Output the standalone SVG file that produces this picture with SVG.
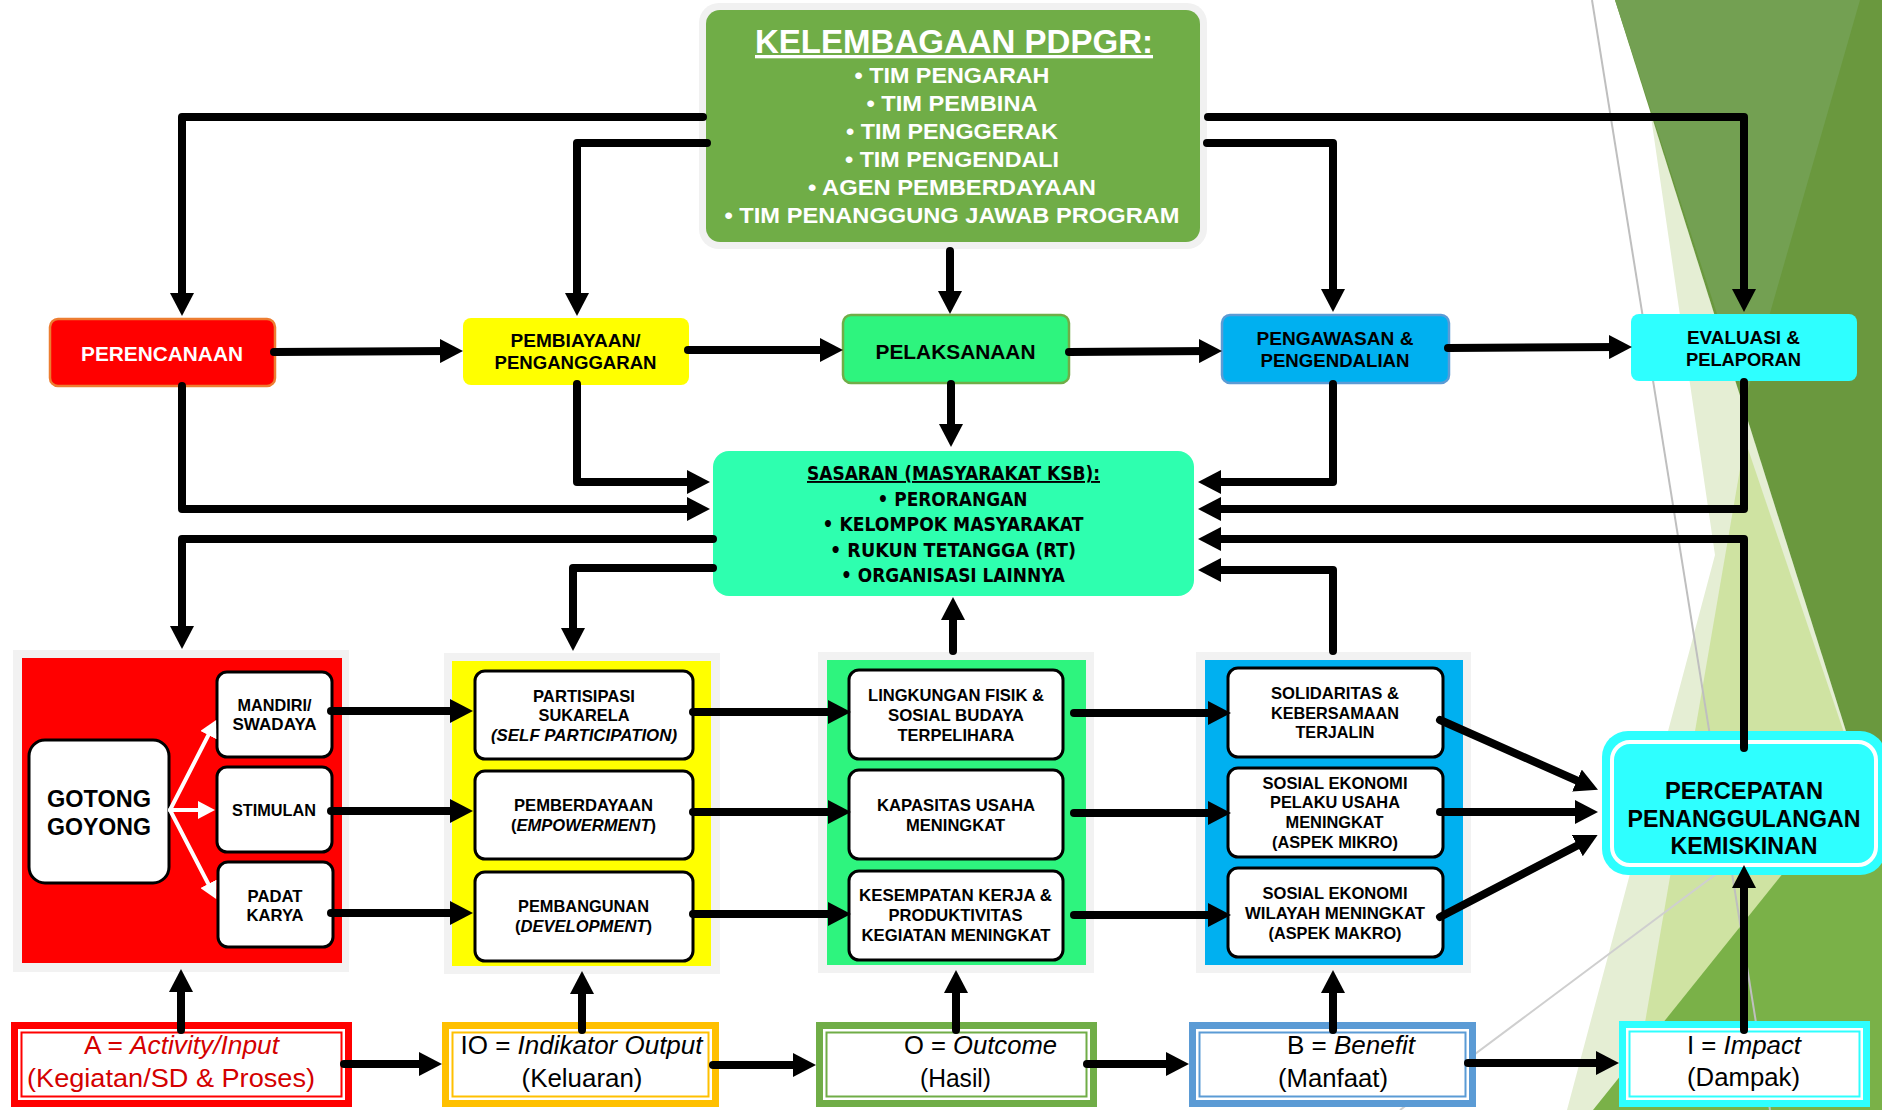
<svg xmlns="http://www.w3.org/2000/svg" width="1882" height="1110" viewBox="0 0 1882 1110">
<defs>
<style>
.b{font-family:"Liberation Sans",Arial,sans-serif;font-weight:bold;text-anchor:middle;fill:#000}
.r{font-family:"Liberation Sans",Arial,sans-serif;font-weight:normal;text-anchor:middle;font-size:26px;fill:#000}
.t{font-family:"DejaVu Sans","Liberation Sans",sans-serif;font-weight:bold;text-anchor:middle;font-size:19px;fill:#000}
.wt{fill:#fff}
.i{font-style:italic}
.u{text-decoration:underline}
.f16{font-size:16.5px}
.f18{font-size:18.7px}
.f21{font-size:21px}
.f23{font-size:23px}
.wb{fill:#fff;stroke:#000;stroke-width:3}
.frame{fill:#F2F2F2}
.ln{fill:none;stroke:#000;stroke-width:8;stroke-linecap:round;stroke-linejoin:round;marker-end:url(#ah)}
.wl{fill:none;stroke:#fff;stroke-width:4;stroke-linecap:round;marker-end:url(#wh)}
.bg{stroke:none}
</style>
<marker id="ah" markerUnits="userSpaceOnUse" markerWidth="24" markerHeight="24" viewBox="0 0 24 24" refX="11" refY="12" orient="auto"><path d="M0,0 L23,12 L0,24 z" fill="#000"/></marker>
<marker id="wh" markerUnits="userSpaceOnUse" markerWidth="18" markerHeight="18" viewBox="0 0 18 18" refX="8" refY="9" orient="auto"><path d="M0,0 L17,9 L0,18 z" fill="#fff"/></marker>
</defs>
<rect width="1882" height="1110" fill="#fff"/>
<g id="background">
<polygon class="bg" points="1650,110 1715,555 1567,1110 1882,1110 1882,845" fill="#E5EED4"/>
<polygon class="bg" points="1745,440 1630,1110 1882,1110 1882,845" fill="#CFE3A2"/>
<polygon class="bg" points="1593,1110 1882,750 1882,1110" fill="#7AB148"/>
<polygon class="bg" points="1615,0 1882,0 1882,845" fill="#6A983E"/>
<polygon class="bg" points="1615,0 1860,0 1745,400" fill="#73A052"/>
<line x1="1592" y1="0" x2="1770" y2="1110" stroke="#BFBFBF" stroke-width="2"/>
<line x1="1400" y1="1110" x2="1882" y2="750" stroke="#CFCFCF" stroke-width="2"/>
</g>

<g id="kelembagaan">
<rect x="699" y="3" width="508" height="246" rx="20" fill="#F1F1F1"/>
<rect x="706" y="10" width="494" height="232" rx="14" fill="#70AD47"/>
<text class="b wt u" x="954" y="53" font-size="33" textLength="398" lengthAdjust="spacingAndGlyphs">KELEMBAGAAN PDPGR:</text>
<text class="b wt" x="952" y="83" font-size="22.5" textLength="195" lengthAdjust="spacingAndGlyphs">• TIM PENGARAH</text>
<text class="b wt" x="952" y="111" font-size="22.5" textLength="171" lengthAdjust="spacingAndGlyphs">• TIM PEMBINA</text>
<text class="b wt" x="952" y="139" font-size="22.5" textLength="212" lengthAdjust="spacingAndGlyphs">• TIM PENGGERAK</text>
<text class="b wt" x="952" y="167" font-size="22.5" textLength="214" lengthAdjust="spacingAndGlyphs">• TIM PENGENDALI</text>
<text class="b wt" x="952" y="195" font-size="22.5" textLength="288" lengthAdjust="spacingAndGlyphs">• AGEN PEMBERDAYAAN</text>
<text class="b wt" x="952" y="223" font-size="22.5" textLength="455" lengthAdjust="spacingAndGlyphs">• TIM PENANGGUNG JAWAB PROGRAM</text>
</g>

<g id="perencanaan">
<rect x="50" y="319" width="225" height="67" rx="8" fill="#FF0000" stroke="#ED7D31" stroke-width="2.5"/>
<text class="b f21 wt" x="162" y="361" textLength="162" lengthAdjust="spacingAndGlyphs">PERENCANAAN</text>
</g>
<g id="pembiayaan">
<rect x="463" y="318" width="226" height="67" rx="8" fill="#FFFF00"/>
<text class="b f18" x="575.5" y="347" textLength="130" lengthAdjust="spacingAndGlyphs">PEMBIAYAAN/</text>
<text class="b f18" x="575.5" y="368.5" textLength="162" lengthAdjust="spacingAndGlyphs">PENGANGGARAN</text>
</g>
<g id="pelaksanaan">
<rect x="843" y="315" width="226" height="68" rx="8" fill="#2EF47E" stroke="#70AD47" stroke-width="2.5"/>
<text class="b f21" x="955.5" y="359" textLength="160" lengthAdjust="spacingAndGlyphs">PELAKSANAAN</text>
</g>
<g id="pengawasan">
<rect x="1222" y="315" width="227" height="68" rx="8" fill="#00B0F0" stroke="#5B9BD5" stroke-width="2.5"/>
<text class="b f18" x="1335" y="345" textLength="157" lengthAdjust="spacingAndGlyphs">PENGAWASAN &amp;</text>
<text class="b f18" x="1335" y="367" textLength="149" lengthAdjust="spacingAndGlyphs">PENGENDALIAN</text>
</g>
<g id="evaluasi">
<rect x="1631" y="314" width="226" height="67" rx="8" fill="#2EFFFF"/>
<text class="b f18" x="1743.5" y="343.5" textLength="113" lengthAdjust="spacingAndGlyphs">EVALUASI &amp;</text>
<text class="b f18" x="1743.5" y="365.5" textLength="115" lengthAdjust="spacingAndGlyphs">PELAPORAN</text>
</g>

<g id="sasaran">
<rect x="713" y="451" width="481" height="145" rx="16" fill="#2EFFAF"/>
<text class="t u" x="953.5" y="480" textLength="293" lengthAdjust="spacingAndGlyphs">SASARAN (MASYARAKAT KSB):</text>
<text class="t" x="952.5" y="506" textLength="150" lengthAdjust="spacingAndGlyphs">• PERORANGAN</text>
<text class="t" x="953" y="531" textLength="261" lengthAdjust="spacingAndGlyphs">• KELOMPOK MASYARAKAT</text>
<text class="t" x="953" y="556.5" textLength="246" lengthAdjust="spacingAndGlyphs">• RUKUN TETANGGA (RT)</text>
<text class="t" x="953" y="581.5" textLength="224" lengthAdjust="spacingAndGlyphs">• ORGANISASI LAINNYA</text>
</g>

<g id="group-activity">
<rect class="frame" x="13" y="650" width="336" height="322"/>
<rect x="22" y="658" width="320" height="305" fill="#FF0000"/>
<g id="gotong-goyong">
<rect class="wb" x="29" y="740" width="140" height="143" rx="16"/>
<text class="b f23" x="99" y="807" textLength="104" lengthAdjust="spacingAndGlyphs">GOTONG</text>
<text class="b f23" x="99" y="834.5" textLength="104" lengthAdjust="spacingAndGlyphs">GOYONG</text>
</g>
<g id="mandiri">
<rect class="wb" x="217" y="672" width="115" height="85" rx="10"/>
<text class="b f16" x="274.5" y="711" textLength="74" lengthAdjust="spacingAndGlyphs">MANDIRI/</text>
<text class="b f16" x="274.5" y="730" textLength="84" lengthAdjust="spacingAndGlyphs">SWADAYA</text>
</g>
<g id="stimulan">
<rect class="wb" x="217" y="767" width="115" height="85" rx="10"/>
<text class="b f16" x="274" y="816" textLength="84" lengthAdjust="spacingAndGlyphs">STIMULAN</text>
</g>
<g id="padat-karya">
<rect class="wb" x="218" y="862" width="115" height="85" rx="10"/>
<text class="b f16" x="275" y="902" textLength="55" lengthAdjust="spacingAndGlyphs">PADAT</text>
<text class="b f16" x="275" y="921" textLength="57" lengthAdjust="spacingAndGlyphs">KARYA</text>
</g>
</g>

<g id="group-output">
<rect class="frame" x="444" y="653" width="276" height="321"/>
<rect x="452" y="661" width="259" height="305" fill="#FFFF00"/>
<g id="partisipasi">
<rect class="wb" x="475" y="671" width="218" height="88" rx="10"/>
<text class="b f16" x="584" y="702" textLength="102" lengthAdjust="spacingAndGlyphs">PARTISIPASI</text>
<text class="b f16" x="584" y="721" textLength="91" lengthAdjust="spacingAndGlyphs">SUKARELA</text>
<text class="b f16 i" x="584" y="741" textLength="186" lengthAdjust="spacingAndGlyphs">(SELF PARTICIPATION)</text>
</g>
<g id="pemberdayaan">
<rect class="wb" x="475" y="771" width="218" height="88" rx="10"/>
<text class="b f16" x="583.5" y="811" textLength="139" lengthAdjust="spacingAndGlyphs">PEMBERDAYAAN</text>
<text class="b f16" x="583.5" y="831" textLength="145" lengthAdjust="spacingAndGlyphs">(<tspan class="i">EMPOWERMENT</tspan>)</text>
</g>
<g id="pembangunan">
<rect class="wb" x="475" y="872" width="218" height="89" rx="10"/>
<text class="b f16" x="583.5" y="912" textLength="131" lengthAdjust="spacingAndGlyphs">PEMBANGUNAN</text>
<text class="b f16" x="583.5" y="932" textLength="137" lengthAdjust="spacingAndGlyphs">(<tspan class="i">DEVELOPMENT</tspan>)</text>
</g>
</g>

<g id="group-outcome">
<rect class="frame" x="818" y="652" width="276" height="321"/>
<rect x="827" y="660" width="259" height="305" fill="#2EF47E"/>
<g id="lingkungan">
<rect class="wb" x="849" y="670" width="214" height="89" rx="10"/>
<text class="b f16" x="956" y="701" textLength="176" lengthAdjust="spacingAndGlyphs">LINGKUNGAN FISIK &amp;</text>
<text class="b f16" x="956" y="721" textLength="136" lengthAdjust="spacingAndGlyphs">SOSIAL BUDAYA</text>
<text class="b f16" x="956" y="741" textLength="117" lengthAdjust="spacingAndGlyphs">TERPELIHARA</text>
</g>
<g id="kapasitas">
<rect class="wb" x="849" y="770" width="214" height="89" rx="10"/>
<text class="b f16" x="956" y="811" textLength="158" lengthAdjust="spacingAndGlyphs">KAPASITAS USAHA</text>
<text class="b f16" x="955.5" y="831" textLength="99" lengthAdjust="spacingAndGlyphs">MENINGKAT</text>
</g>
<g id="kesempatan">
<rect class="wb" x="849" y="871" width="214" height="89" rx="10"/>
<text class="b f16" x="955.5" y="901" textLength="193" lengthAdjust="spacingAndGlyphs">KESEMPATAN KERJA &amp;</text>
<text class="b f16" x="955.5" y="921" textLength="134" lengthAdjust="spacingAndGlyphs">PRODUKTIVITAS</text>
<text class="b f16" x="956" y="941" textLength="189" lengthAdjust="spacingAndGlyphs">KEGIATAN MENINGKAT</text>
</g>
</g>

<g id="group-benefit">
<rect class="frame" x="1196" y="652" width="275" height="321"/>
<rect x="1205" y="660" width="258" height="305" fill="#00B0F0"/>
<g id="solidaritas">
<rect class="wb" x="1228" y="668" width="215" height="89" rx="10"/>
<text class="b f16" x="1335" y="698.5" textLength="128" lengthAdjust="spacingAndGlyphs">SOLIDARITAS &amp;</text>
<text class="b f16" x="1335" y="718.5" textLength="128" lengthAdjust="spacingAndGlyphs">KEBERSAMAAN</text>
<text class="b f16" x="1335" y="737.5" textLength="79" lengthAdjust="spacingAndGlyphs">TERJALIN</text>
</g>
<g id="mikro">
<rect class="wb" x="1228" y="768" width="215" height="89" rx="10"/>
<text class="b f16" x="1335" y="788.5" textLength="145" lengthAdjust="spacingAndGlyphs">SOSIAL EKONOMI</text>
<text class="b f16" x="1335" y="808" textLength="130" lengthAdjust="spacingAndGlyphs">PELAKU USAHA</text>
<text class="b f16" x="1334.5" y="827.5" textLength="98" lengthAdjust="spacingAndGlyphs">MENINGKAT</text>
<text class="b f16" x="1335" y="847.5" textLength="126" lengthAdjust="spacingAndGlyphs">(ASPEK MIKRO)</text>
</g>
<g id="makro">
<rect class="wb" x="1228" y="868" width="215" height="89" rx="10"/>
<text class="b f16" x="1335" y="898.5" textLength="145" lengthAdjust="spacingAndGlyphs">SOSIAL EKONOMI</text>
<text class="b f16" x="1335" y="918.5" textLength="180" lengthAdjust="spacingAndGlyphs">WILAYAH MENINGKAT</text>
<text class="b f16" x="1335" y="938.5" textLength="133" lengthAdjust="spacingAndGlyphs">(ASPEK MAKRO)</text>
</g>
</g>

<g id="percepatan">
<rect x="1602" y="731" width="284" height="144" rx="26" fill="#2EFFFF"/>
<rect x="1612" y="742" width="264" height="123" rx="18" fill="#2EFFFF" stroke="#fff" stroke-width="4"/>
<text class="b f23" x="1744" y="798.5" textLength="158" lengthAdjust="spacingAndGlyphs">PERCEPATAN</text>
<text class="b f23" x="1744" y="827" textLength="233" lengthAdjust="spacingAndGlyphs">PENANGGULANGAN</text>
<text class="b f23" x="1744" y="854" textLength="147" lengthAdjust="spacingAndGlyphs">KEMISKINAN</text>
</g>

<g id="box-a">
<rect x="11" y="1022" width="341" height="85" fill="#FF0000"/>
<rect x="18" y="1029" width="327" height="71" fill="#fff"/>
<rect x="21.5" y="1032.5" width="320" height="64" fill="none" stroke="#FF0000" stroke-width="2"/>
<text class="r" x="181.5" y="1054" fill="#D40000" style="fill:#D40000" textLength="195" lengthAdjust="spacingAndGlyphs">A = <tspan class="i">Activity/Input</tspan></text>
<text class="r" x="171" y="1087" style="fill:#D40000" textLength="288" lengthAdjust="spacingAndGlyphs">(Kegiatan/SD &amp; Proses)</text>
</g>
<g id="box-io">
<rect x="442" y="1022" width="277" height="85" fill="#FFC000"/>
<rect x="449" y="1029" width="263" height="71" fill="#fff"/>
<rect x="452.5" y="1032.5" width="256" height="64" fill="none" stroke="#FFC000" stroke-width="2"/>
<text class="r" x="581.5" y="1054" textLength="242" lengthAdjust="spacingAndGlyphs">IO = <tspan class="i">Indikator Output</tspan></text>
<text class="r" x="582" y="1087" textLength="121" lengthAdjust="spacingAndGlyphs">(Keluaran)</text>
</g>
<g id="box-o">
<rect x="816" y="1022" width="281" height="85" fill="#70AD47"/>
<rect x="823" y="1029" width="267" height="71" fill="#fff"/>
<rect x="826.5" y="1032.5" width="260" height="64" fill="none" stroke="#70AD47" stroke-width="2"/>
<text class="r" x="980.5" y="1054" textLength="153" lengthAdjust="spacingAndGlyphs">O = <tspan class="i">Outcome</tspan></text>
<text class="r" x="955.5" y="1087" textLength="71" lengthAdjust="spacingAndGlyphs">(Hasil)</text>
</g>
<g id="box-b">
<rect x="1189" y="1022" width="287" height="85" fill="#5B9BD5"/>
<rect x="1196" y="1029" width="273" height="71" fill="#fff"/>
<rect x="1199.5" y="1032.5" width="266" height="64" fill="none" stroke="#5B9BD5" stroke-width="2"/>
<text class="r" x="1351" y="1054" textLength="128" lengthAdjust="spacingAndGlyphs">B = <tspan class="i">Benefit</tspan></text>
<text class="r" x="1333" y="1087" textLength="110" lengthAdjust="spacingAndGlyphs">(Manfaat)</text>
</g>
<g id="box-i">
<rect x="1619" y="1021" width="251" height="86" fill="#2EFFFF"/>
<rect x="1626" y="1028" width="237" height="72" fill="#fff"/>
<rect x="1629.5" y="1031.5" width="230" height="65" fill="none" stroke="#2EFFFF" stroke-width="2"/>
<text class="r" x="1744" y="1054" textLength="114" lengthAdjust="spacingAndGlyphs">I = <tspan class="i">Impact</tspan></text>
<text class="r" x="1743.5" y="1086" textLength="113" lengthAdjust="spacingAndGlyphs">(Dampak)</text>
</g>

<g id="connectors">
<path class="ln" d="M703,117 H182 V304"/>
<path class="ln" d="M707,143 H577 V304"/>
<path class="ln" d="M950,251 V302"/>
<path class="ln" d="M1207,143 H1333 V300"/>
<path class="ln" d="M1208,117 H1744 V300"/>
<path class="ln" d="M274,352 L451,351"/>
<path class="ln" d="M688,350 L831,350"/>
<path class="ln" d="M1069,352 L1210,351"/>
<path class="ln" d="M1448,348 L1620,347"/>
<path class="ln" d="M182,386 V509 H698"/>
<path class="ln" d="M577,384 V482 H698"/>
<path class="ln" d="M951,384 V435"/>
<path class="ln" d="M1333,384 V482 H1210"/>
<path class="ln" d="M1744,382 V509 H1210"/>
<path class="ln" d="M713,539 H182 V637"/>
<path class="ln" d="M713,568 H573 V639"/>
<path class="ln" d="M953,651 V609"/>
<path class="ln" d="M1744,748 V539 H1210"/>
<path class="ln" d="M1333,651 V570 H1210"/>
<path class="ln" d="M331,711 H461"/>
<path class="ln" d="M331,811 H461"/>
<path class="ln" d="M331,913 H461"/>
<path class="ln" d="M693,712 H839"/>
<path class="ln" d="M693,812 H839"/>
<path class="ln" d="M693,914 H839"/>
<path class="ln" d="M1074,713 H1219"/>
<path class="ln" d="M1074,813 H1219"/>
<path class="ln" d="M1074,915 H1219"/>
<path class="ln" d="M1440,720 L1587,785"/>
<path class="ln" d="M1440,812 H1586"/>
<path class="ln" d="M1440,917 L1587,840.5"/>
<path class="ln" d="M181,1030 V981"/>
<path class="ln" d="M582,1030 V983"/>
<path class="ln" d="M956,1030 V982"/>
<path class="ln" d="M1333,1030 V982"/>
<path class="ln" d="M1744,1030 V877"/>
<path class="ln" d="M344,1064 H430"/>
<path class="ln" d="M713,1065 H804"/>
<path class="ln" d="M1087,1064 H1177"/>
<path class="ln" d="M1468,1063 H1607"/>
<path class="wl" d="M170,810 L212,728"/>
<path class="wl" d="M170,810 H206"/>
<path class="wl" d="M170,810 L212,891"/>
</g>
</svg>
